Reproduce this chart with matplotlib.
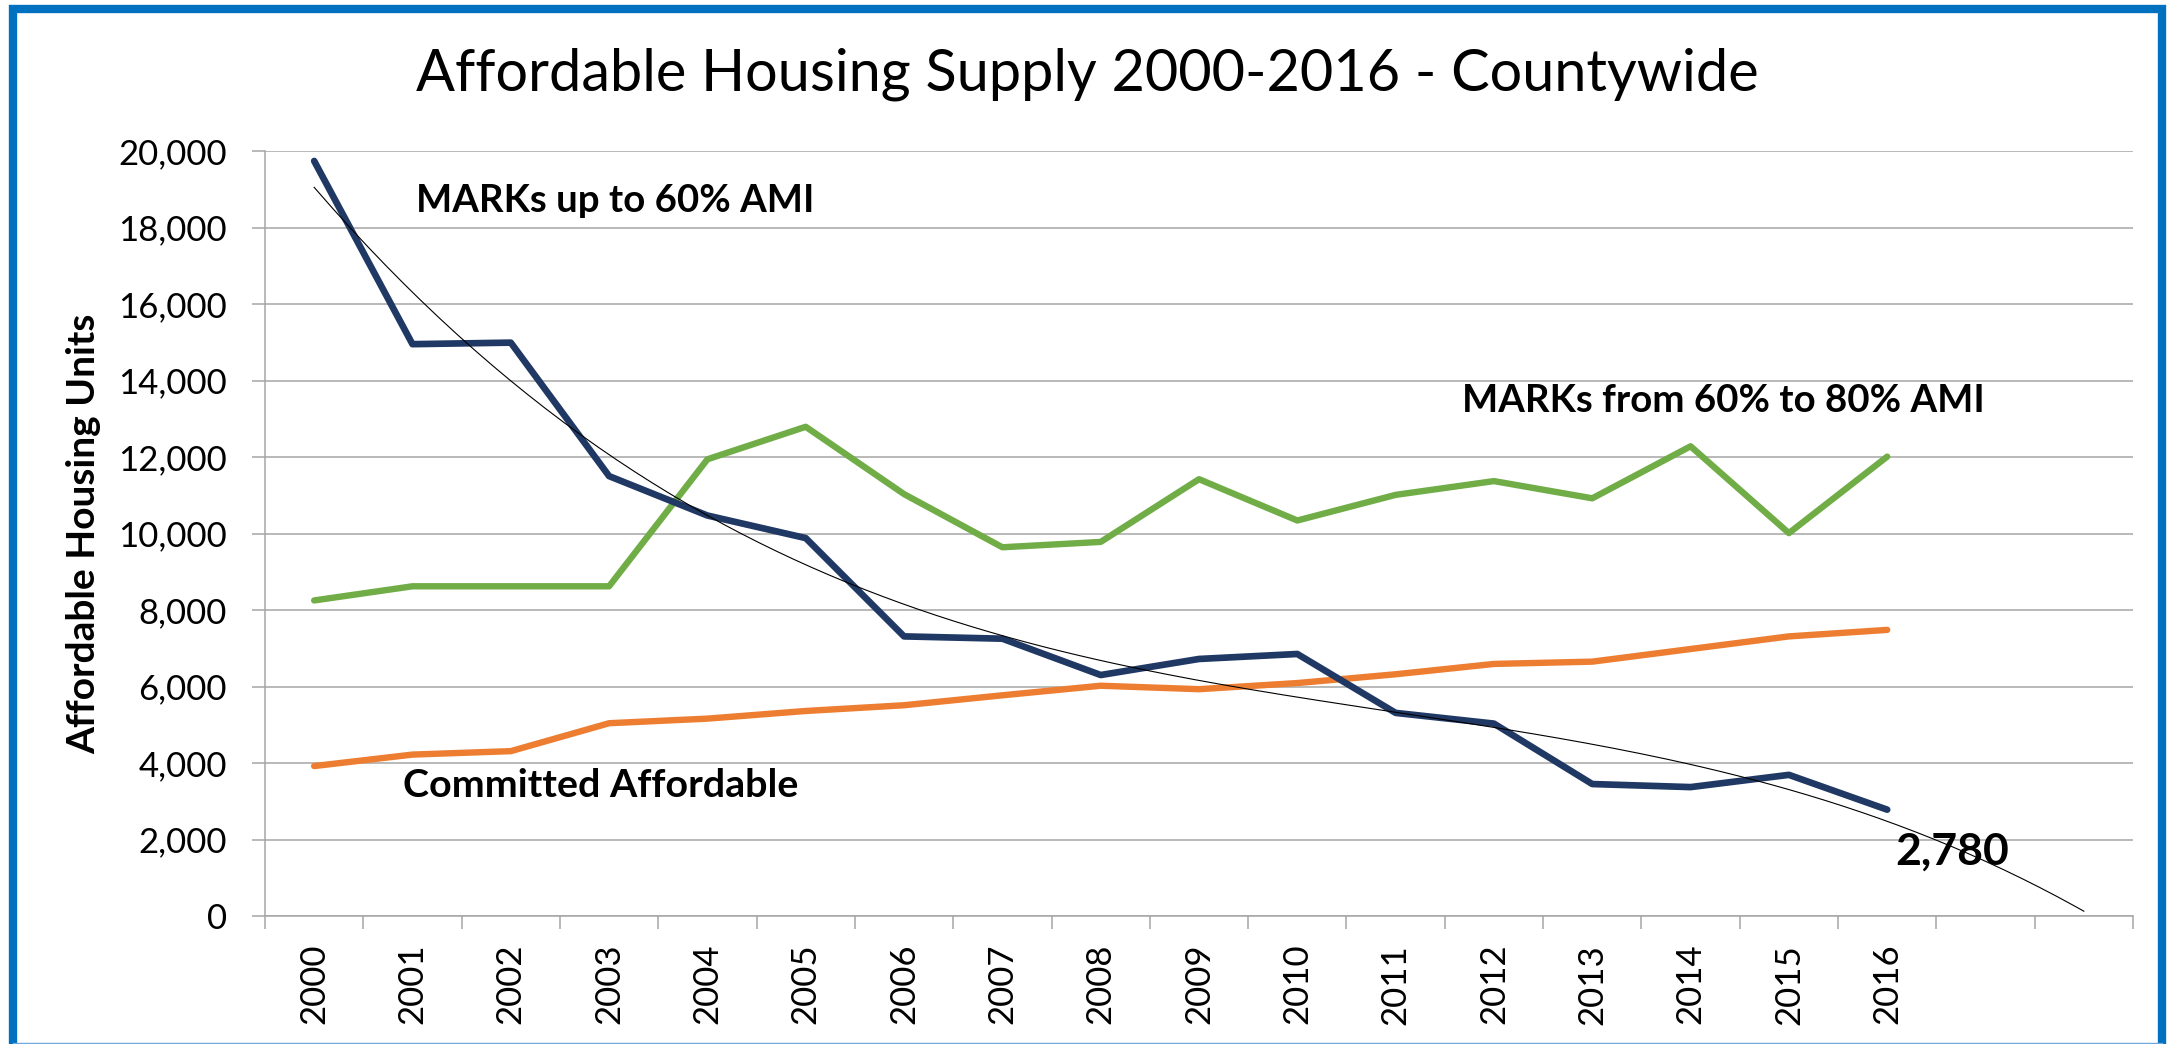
import numpy as np
import matplotlib
matplotlib.use('Agg')
import matplotlib.pyplot as plt
from matplotlib.ticker import FuncFormatter, FixedLocator
from matplotlib.patches import Rectangle
from matplotlib.lines import Line2D

plt.rcParams['font.family'] = ['Lato', 'DejaVu Sans']

# Data
years = ['2000', '2001', '2002', '2003', '2004', '2005', '2006', '2007', '2008',
         '2009', '2010', '2011', '2012', '2013', '2014', '2015', '2016']
extra_slots = ['', '']  # empty categories used by the trendline forecast

marks_60 = [19740, 14950, 14990, 11500, 10470, 9880, 7310, 7250, 6300,
            6720, 6850, 5310, 5030, 3450, 3370, 3690, 2780]
marks_60_80 = [8250, 8620, 8620, 8620, 11940, 12790, 11030, 9640, 9780,
               11420, 10340, 11010, 11370, 10920, 12280, 10010, 12010]
committed = [3920, 4220, 4310, 5040, 5160, 5360, 5510, 5770, 6020,
             5930, 6090, 6320, 6590, 6650, 6980, 7310, 7480]

last_label = '2,780'

# Colors
navy = '#203864'
green = '#70AD47'
orange = '#ED7D31'
grid_gray = '#A6A6A6'
border_blue = '#0070C0'

W, H = 2174, 1044
fig = plt.figure(figsize=(W / 100, H / 100), dpi=100)
ax = fig.add_axes([265 / W, 1 - 916 / H, (2133 - 265) / W, (916 - 151) / H])

categories = years + extra_slots
x = np.arange(len(years))

ax.plot(x, committed, color=orange, lw=4.6, solid_capstyle='round', zorder=3)
ax.plot(x, marks_60_80, color=green, lw=4.6, solid_capstyle='round', zorder=3)
ax.plot(x, marks_60, color=navy, lw=4.8, solid_capstyle='round', zorder=4)

# polynomial trendline, forecast forward two periods (as in Excel)
coef = np.polyfit(x + 1, marks_60, 3)
xt = np.linspace(0, len(categories) - 1, 200)
ax.plot(xt, np.polyval(coef, xt + 1), color='black', lw=0.8, zorder=5)

ax.set_xlim(-0.5, len(categories) - 0.5)
ax.set_ylim(0, 20000)

ax.set_xticks(np.arange(len(categories)))
ax.set_xticklabels(categories, rotation=90, fontsize=25)
ax.xaxis.set_minor_locator(FixedLocator(np.arange(len(categories) + 1) - 0.5))
ax.tick_params(axis='x', which='major', length=0, pad=20)
ax.tick_params(axis='x', which='minor', length=9.5, width=1.1, color=grid_gray)

ax.set_yticks(np.arange(0, 20001, 2000))
ax.yaxis.set_major_formatter(FuncFormatter(lambda v, p: f'{int(v):,}'))
ax.tick_params(axis='y', length=9.5, width=1.1, color=grid_gray, labelsize=25, pad=18)

ax.grid(axis='y', color=grid_gray, lw=1.1)
ax.set_axisbelow(True)
for side in ['top', 'right']:
    ax.spines[side].set_visible(False)
for side in ['left', 'bottom']:
    ax.spines[side].set_color(grid_gray)
    ax.spines[side].set_linewidth(1.1)

ax.set_ylabel('Affordable Housing Units', fontsize=28, fontweight='bold', labelpad=12)

# series labels
ax.text(1.04, 18400, 'MARKs up to 60% AMI', fontsize=27.6, fontweight='bold', va='baseline')
ax.text(11.68, 13180, 'MARKs from 60% to 80% AMI', fontsize=27.6, fontweight='bold', va='baseline')
ax.text(0.9, 3110, 'Committed Affordable', fontsize=28.4, fontweight='bold', va='baseline')
ax.text(16.08, 1330, last_label, fontsize=32, fontweight='bold', va='baseline')

fig.text(0.5, 1 - 90 / H, 'Affordable Housing Supply 2000-2016 - Countywide',
         fontsize=41.5, ha='center', va='baseline')

# blue frame around the chart (bottom edge is cut off in the original)
fig.add_artist(Rectangle((12.5 / W, -0.05), (2162 - 12.5) / W, 1.05 - 9 / H,
                         transform=fig.transFigure, fill=False,
                         edgecolor=border_blue, lw=6))
fig.add_artist(Line2D([12.5 / W, 2162 / W], [1.2 / H, 1.2 / H],
                      transform=fig.transFigure, color='#6FA8DC', lw=1))

fig.savefig('out.png', dpi=100)
